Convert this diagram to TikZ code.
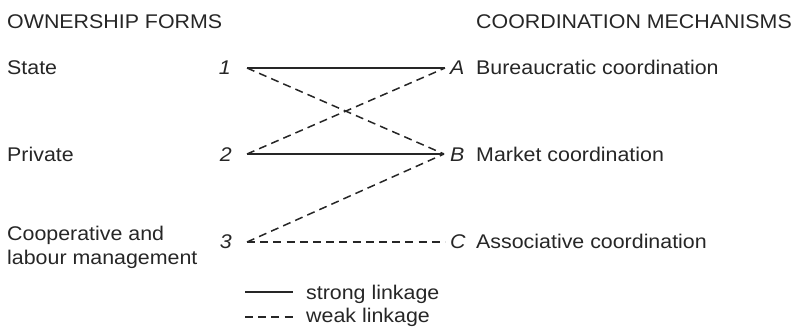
\documentclass[tikz,border=0pt]{standalone}
\usepackage{fontspec}
\setmainfont{Liberation Sans}[FakeStretch=1.08]
\definecolor{ink}{HTML}{262626}
\begin{document}
\begin{tikzpicture}[x=1pt,y=-1pt,
  txt/.style={anchor=base west,inner sep=0pt,text=ink,font=\fontsize{19.8}{22}\selectfont},
  num/.style={anchor=base east,inner sep=0pt,text=ink,font=\fontsize{19.8}{22}\selectfont\itshape},
  let/.style={anchor=base west,inner sep=0pt,text=ink,font=\fontsize{19.8}{22}\selectfont\itshape},
  strong/.style={draw=ink,line width=1.7pt},
  weak/.style={draw=ink,line width=1.5pt,dash pattern=on 8pt off 5.2pt}]
\useasboundingbox (0,0) rectangle (797,327);
% headers
\node[txt] (hl) at (7,28) {OWNERSHIP FORMS};
\node[txt] (hr) at (476,28) {COORDINATION MECHANISMS};
% left labels
\node[txt] (ls) at (7,74) {State};
\node[txt] (lp) at (7,161) {Private};
\node[txt] (lc1) at (7,240) {Cooperative and};
\node[txt] (lc2) at (7,264) {labour management};
% numbers
\node[num] (n1) at (231,74) {1};
\node[num] (n2) at (232,161) {2};
\node[num] (n3) at (232,248) {3};
% letters
\node[let] (la) at (450,74) {A};
\node[let] (lb) at (450,161) {B};
\node[let] (lcc) at (450,248) {C};
% right labels
\node[txt] (ra) at (476,74) {Bureaucratic coordination};
\node[txt] (rb) at (476,161) {Market coordination};
\node[txt] (rc) at (476,248) {Associative coordination};
% connector endpoints
\coordinate (p1) at (247,68);
\coordinate (p2) at (247,154);
\coordinate (p3) at (247,242);
\coordinate (q1) at (445,68);
\coordinate (q2) at (444,154);
\coordinate (q3) at (445,242);
\draw[strong] (p1) -- (q1);
\draw[strong] (p2) -- (q2);
\draw[weak] (p1) -- (q2);
\draw[weak] (p2) -- (q1);
\draw[weak] (p3) -- (q2);
\draw[weak] (p3) -- (q3);
% legend
\coordinate (s1) at (245,292);
\coordinate (s2) at (293,292);
\coordinate (w1) at (245,317);
\coordinate (w2) at (293,317);
\draw[strong] (s1) -- (s2);
\draw[weak] (w1) -- (w2);
\node[txt] (ts) at (306,299) {strong linkage};
\node[txt] (tw) at (306,322) {weak linkage};
\end{tikzpicture}
\end{document}
